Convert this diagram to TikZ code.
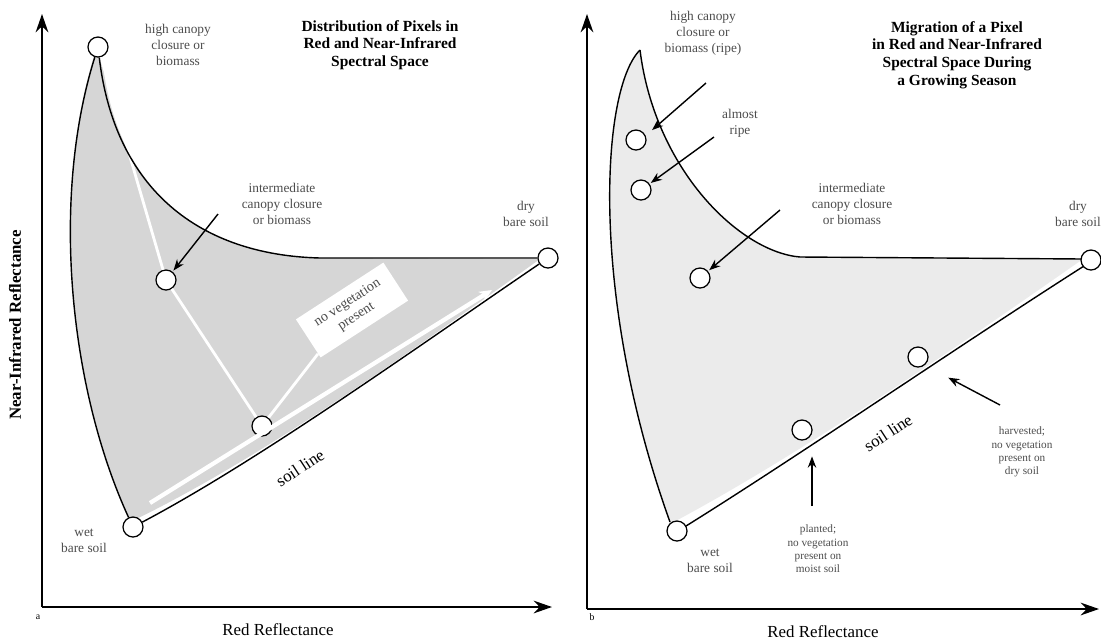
\documentclass[tikz,border=0pt]{standalone}
\usepackage{fontspec}
\setmainfont{Liberation Serif}
\usetikzlibrary{arrows.meta}
\tikzset{
  pixel/.style={circle, draw, line width=0.9pt, fill=white, minimum size=0.5cm, inner sep=0pt},
  axis/.style={line width=1.4pt, -{Stealth[length=13pt, width=9pt]}},
  ptr/.style={line width=1pt, -{Stealth[length=8pt, width=6pt]}, shorten >=1pt},
  lbl/.style={align=center, text=black!70, font=\fontsize{9.5}{11.5}\selectfont},
  ttl/.style={align=center, font=\fontsize{11}{12.6}\selectfont\bfseries},
  outline/.style={line width=1pt, line join=round},
}
\begin{document}
\begin{tikzpicture}[x=0.025cm, y=-0.025cm]
\useasboundingbox (0,0) rectangle (1101,641);

% ---- panel a ----
\fill[black!16] (102,56) .. controls (115,190) and (200,255) .. (320,258) -- (540,259)
  .. controls (420,345) and (260,460) .. (130,522)
  .. controls (70,390) and (50,200) .. (94,56) -- cycle;
\node[pixel] (ahigh) at (98,47) {};
\node[pixel] (amid) at (166,280) {};
\node[pixel] (asoil) at (262,426) {};
\node[pixel] (awet) at (133,527) {};
\node[pixel] (adry) at (548,258) {};
\draw[white, line width=2pt] (ahigh) -- (amid) -- (asoil);
\node[fill=white, rotate=33, align=center, text=black!70, font=\fontsize{10}{11.5}\selectfont,
  inner xsep=10pt, inner ysep=6pt] (anoveg) at (352,310) {no vegetation\\present};
\draw[white, line width=2pt] (asoil) -- (anoveg);
\draw[white, line width=3pt, -{Stealth[length=9pt, width=8pt]}] (150,503) -- (492,290);
\draw[outline] (ahigh) .. controls (115,190) and (200,255) .. (320,258) -- (adry);
\draw[outline] (adry) .. controls (420,345) and (260,460) .. (awet);
\draw[outline] (awet) .. controls (70,390) and (50,200) .. (ahigh);

\coordinate (aO) at (42,607);
\draw[axis] (aO) -- (42,14);
\draw[axis] (aO) -- (552,607);
\node[font=\fontsize{7}{8}\selectfont] (alabel) at (38,617) {a};
\node[font=\fontsize{12}{14}\selectfont] (axlab) at (278,630) {Red Reflectance};
\node[rotate=90, font=\fontsize{12}{14}\selectfont\bfseries] (aylab) at (15,325) {Near-Infrared Reflectance};

\node[ttl] (atitle) at (380,45) {Distribution of Pixels in\\Red and Near-Infrared\\Spectral Space};
\node[lbl] (ahightxt) at (178,45) {high canopy\\closure or\\biomass};
\node[lbl] (amidtxt) at (282,204) {intermediate\\canopy closure\\or biomass};
\node[lbl] (adrytxt) at (526,214) {dry\\bare soil};
\node[lbl] (awettxt) at (84,541) {wet\\bare soil};
\node[rotate=33, font=\fontsize{12}{14}\selectfont] (asoiltxt) at (300,468) {soil line};
\coordinate (amidtail) at (218,214);
\draw[ptr] (amidtail) -- (amid);

% ---- panel b ----
\fill[black!8] (640,50) .. controls (655,170) and (740,252) .. (800,257) -- (1083,259)
  .. controls (960,345) and (800,455) .. (670,524)
  .. controls (590,300) and (600,90) .. (640,50) -- cycle;
\draw[outline] (640,50) .. controls (655,170) and (740,252) .. (800,257) -- (1083,259);
\draw[outline] (1084,266) .. controls (960,345) and (800,455) .. (686,526);
\draw[outline] (670,522) .. controls (590,300) and (600,90) .. (640,50);
\node[pixel] (bripe) at (636,140) {};
\node[pixel] (balmost) at (641,190) {};
\node[pixel] (bmid) at (700,278) {};
\node[pixel] (bharv) at (918,357) {};
\node[pixel] (bplant) at (802,430) {};
\node[pixel] (bwet) at (677,531) {};
\node[pixel] (bdry) at (1091,260) {};

\coordinate (bO) at (587,609);
\draw[axis] (bO) -- (587,14);
\draw[axis] (bO) -- (1099,609);
\node[font=\fontsize{7}{8}\selectfont] (blabel) at (592,617) {b};
\node[font=\fontsize{12}{14}\selectfont] (bxlab) at (823,632) {Red Reflectance};

\node[ttl] (btitle) at (957,55) {Migration of a Pixel\\in Red and Near-Infrared\\Spectral Space During\\a Growing Season};
\node[lbl] (bripetxt) at (703,33) {high canopy\\closure or\\biomass (ripe)};
\node[lbl] (balmosttxt) at (740,123) {almost\\ripe};
\node[lbl] (bmidtxt) at (852,204) {intermediate\\canopy closure\\or biomass};
\node[lbl] (bdrytxt) at (1078,214) {dry\\bare soil};
\node[lbl] (bwettxt) at (710,561) {wet\\bare soil};
\node[lbl, font=\fontsize{8}{9.5}\selectfont] (bplanttxt) at (818,549) {planted;\\no vegetation\\present on\\moist soil};
\node[lbl, font=\fontsize{8}{9.5}\selectfont] (bharvtxt) at (1022,452) {harvested;\\no vegetation\\present on\\dry soil};
\node[rotate=33, font=\fontsize{12}{14}\selectfont] (bsoiltxt) at (888,433) {soil line};

\coordinate (bripetail) at (706,83);
\coordinate (bripehead) at (651,131);
\coordinate (balmosttail) at (714,137);
\coordinate (bmidtail) at (780,210);
\coordinate (bplanttail) at (812,506);
\coordinate (bplanthead) at (812,455);
\coordinate (bharvtail) at (1000,405);
\coordinate (bharvhead) at (947,377);
\draw[ptr] (bripetail) -- (bripehead);
\draw[ptr] (balmosttail) -- (balmost);
\draw[ptr] (bmidtail) -- (bmid);
\draw[ptr] (bplanttail) -- (bplanthead);
\draw[ptr] (bharvtail) -- (bharvhead);
\end{tikzpicture}
\end{document}
